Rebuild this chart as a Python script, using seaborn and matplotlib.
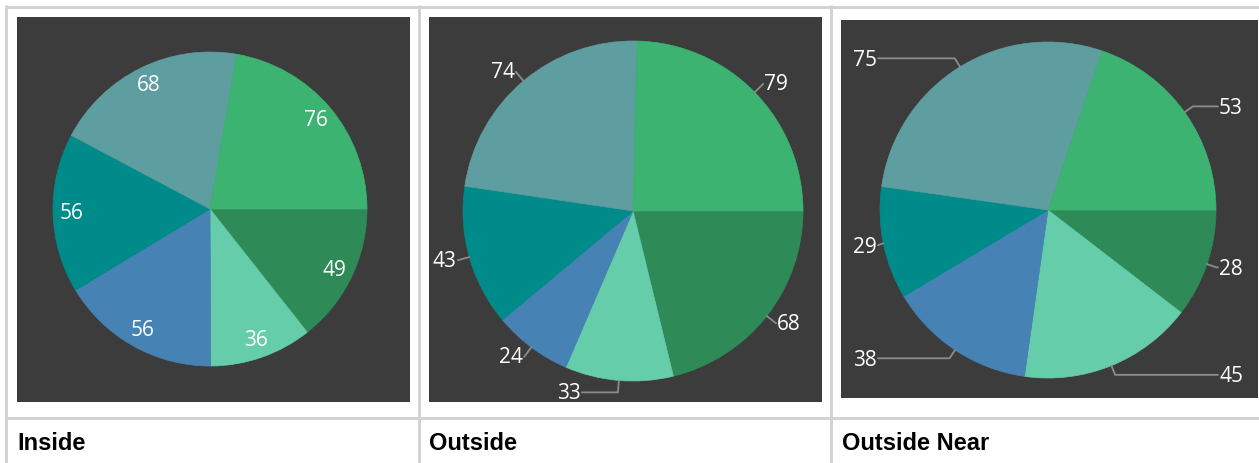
import numpy as np
import matplotlib
matplotlib.use("Agg")
import matplotlib.pyplot as plt
import seaborn as sns

# slice values, listed clockwise starting at 3 o'clock
inside_vals = [49, 36, 56, 56, 68, 76]
outside_vals = [68, 33, 24, 43, 74, 79]
near_vals = [28, 45, 38, 29, 75, 53]
panel_titles = ["Inside", "Outside", "Outside Near"]
slice_colors = ["seagreen", "mediumaquamarine", "steelblue",
                "darkcyan", "cadetblue", "mediumseagreen"]

sns.set_theme(style="white")
plt.rcParams['font.family'] = ['Liberation Sans', 'DejaVu Sans']

W, H = 1259, 464
fig = plt.figure(figsize=(W / 100, H / 100), dpi=100)
fig.patch.set_facecolor("white")

dark = "#3c3c3c"
grid = "#d3d3d3"
leader = "#8c8c8c"
px = 72 / 100  # points per pixel

# table grid behind the charts
bg = fig.add_axes([0, 0, 1, 1])
bg.set_xlim(0, W)
bg.set_ylim(H, 0)
bg.axis("off")
for xs, ys in [([5, W], [7.5, 7.5]), ([6.5, 6.5], [6, H]),
               ([418.7, 418.7], [6, H]), ([831.3, 831.3], [6, H]),
               ([5, W], [419, 419])]:
    bg.plot(xs, ys, color=grid, lw=3 * px, solid_capstyle="butt")

# panel boxes (pixels): x0, y0, x1, y1, pie centre x, y, radius
boxes = [(17, 18, 410, 403, 210, 210, 157),
         (429, 18, 822, 403, 633, 212, 170),
         (841, 21, 1258, 399, 1048, 211, 168)]
title_x = [17, 429, 842]


def make_pie(vals, box):
    x0, y0, x1, y1, cx, cy, r = box
    ax = fig.add_axes([x0 / W, 1 - y1 / H, (x1 - x0) / W, (y1 - y0) / H])
    ax.set_facecolor(dark)
    c = (cx - x0, y1 - cy)
    wedges, _ = ax.pie(vals, colors=slice_colors, startangle=0,
                       counterclock=False, radius=r, center=c, frame=True)
    for w in wedges:
        w.set_edgecolor(w.get_facecolor())
        w.set_linewidth(0.5)
    ax.set_xlim(0, x1 - x0)
    ax.set_ylim(0, y1 - y0)
    ax.set_xticks([])
    ax.set_yticks([])
    for s in ax.spines.values():
        s.set_visible(False)
    return ax, wedges, c, r


lab = dict(color="white", fontsize=15, family=["Open Sans", "DejaVu Sans"])

# Inside
ax, wedges, c, r = make_pie(inside_vals, boxes[0])
for w, v in zip(wedges, inside_vals):
    a = np.radians((w.theta1 + w.theta2) / 2)
    ax.text(c[0] + 0.88 * r * np.cos(a), c[1] + 0.88 * r * np.sin(a), str(v),
            ha="center", va="center", **lab)

# Outside
legs = [0, 36, 0, 0, 0, 0]
ax, wedges, c, r = make_pie(outside_vals, boxes[1])
for w, v, leg in zip(wedges, outside_vals, legs):
    a = np.radians((w.theta1 + w.theta2) / 2)
    side = 1 if np.cos(a) >= 0 else -1
    ex, ey = c[0] + r * np.cos(a), c[1] + r * np.sin(a)
    bx, by = c[0] + (r + 12) * np.cos(a), c[1] + (r + 12) * np.sin(a)
    tx = bx + side * leg
    ax.plot([ex, bx, tx], [ey, by, by], color=leader, lw=1.8 * px)
    ax.text(tx + side * 1, by, str(v), ha="left" if side > 0 else "right",
            va="center", **lab)

# Outside Near
ax, wedges, c, r = make_pie(near_vals, boxes[2])
for w, v in zip(wedges, near_vals):
    a = np.radians((w.theta1 + w.theta2) / 2)
    side = 1 if np.cos(a) >= 0 else -1
    ex, ey = c[0] + r * np.cos(a), c[1] + r * np.sin(a)
    bx, by = c[0] + (r + 10) * np.cos(a), c[1] + (r + 10) * np.sin(a)
    tx = c[0] + side * (r + 2)
    bx = min(bx, tx) if side > 0 else max(bx, tx)
    ax.plot([ex, bx, tx], [ey, by, by], color=leader, lw=1.8 * px)
    ax.text(tx + side * 1, by - 1, str(v), ha="left" if side > 0 else "right",
            va="center", **lab)

for t, x in zip(panel_titles, title_x):
    bg.text(x, 450, t, fontsize=17, fontweight="bold", color="black",
            ha="left", va="baseline")

fig.savefig("out.png", dpi=100, facecolor=fig.get_facecolor())
